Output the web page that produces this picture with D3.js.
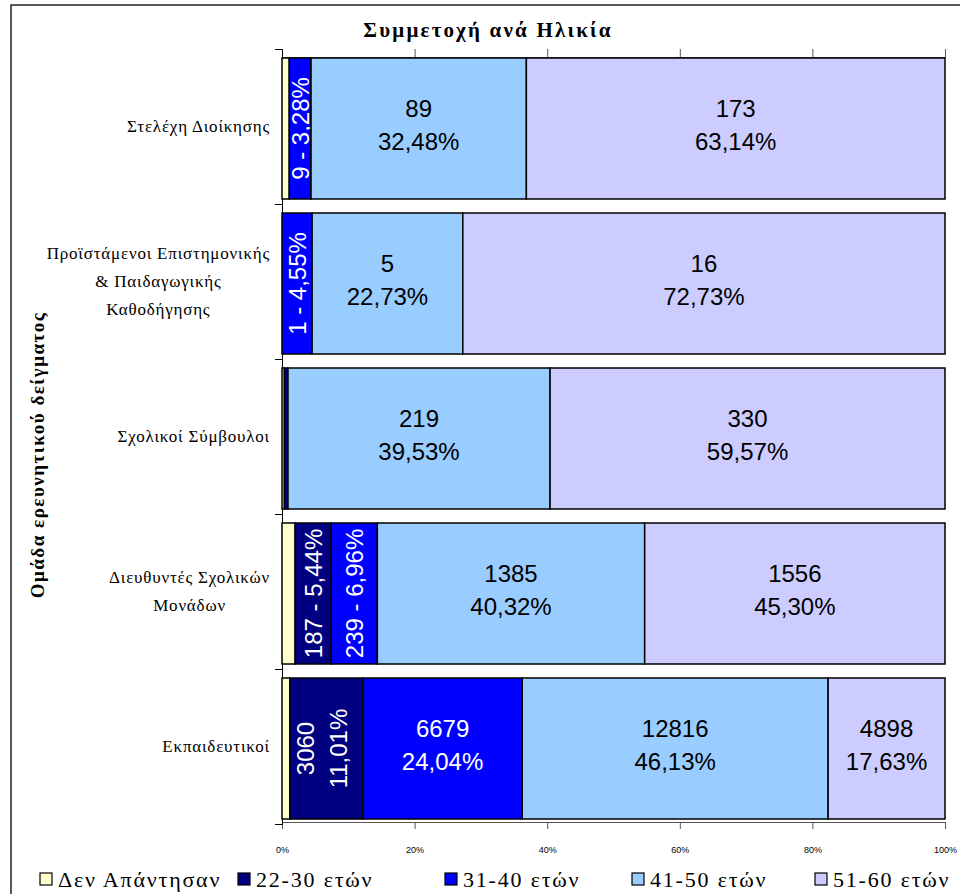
<!DOCTYPE html>
<html>
<head>
<meta charset="utf-8">
<script src="https://cdn.jsdelivr.net/npm/d3@7"></script>
<style>
body { margin: 0; background: #fff; }
svg { display: block; }
</style>
</head>
<body>
<svg width="960" height="894"></svg>
<script>
var categories = ["Στελέχη Διοίκησης",
                  "Προϊστάμενοι Επιστημονικής|& Παιδαγωγικής|Καθοδήγησης",
                  "Σχολικοί Σύμβουλοι",
                  "Διευθυντές Σχολικών|Μονάδων",
                  "Εκπαιδευτικοί"];

var seriesNames = ["Δεν Απάντησαν", "22-30 ετών", "31-40 ετών", "41-50 ετών", "51-60 ετών"];
var noAnswer = [3, 0, 2, 68, 329];
var age2230  = [0, 0, 3, 187, 3060];
var age3140  = [9, 1, 0, 239, 6679];
var age4150  = [89, 5, 219, 1385, 12816];
var age5160  = [173, 16, 330, 1556, 4898];
var xTicks = [0, 0.2, 0.4, 0.6, 0.8, 1];

var colors = ["#FFFFCC", "#000080", "#0000FF", "#99CCFF", "#CCCCFF"];
var textColors = ["#000", "#fff", "#fff", "#000", "#000"];

var serif = "'Liberation Serif', 'Times New Roman', serif";
var sans = "'Liberation Sans', Arial, sans-serif";

var svg = d3.select("svg");

// outer chart border
svg.append("rect")
.attr("x", 11).attr("y", 5)
.attr("width", 980).attr("height", 1000)
.attr("fill", "none").attr("stroke", "#000").attr("stroke-width", 1.3);

var x = d3.scaleLinear().domain([0, 1]).range([282, 945]);
var y = d3.scaleBand().domain(d3.range(categories.length)).range([49, 824]);
var yTick = d3.scaleLinear().domain([0, categories.length]).range([49, 824]);

var series = [noAnswer, age2230, age3140, age4150, age5160];

// stacked rows
var rows = categories.map(function (c, i) {
	var total = d3.sum(series, function (s) { return s[i]; });
	var acc = 0;
	return series.map(function (s, k) {
		var seg = {cat: i, k: k, value: s[i], x0: acc / total, x1: (acc + s[i]) / total, pct: s[i] / total};
		acc += s[i];
		return seg;
	});
});

// axes
svg.append("g")
.attr("transform", "translate(0,57)")
.call(d3.axisTop(x).tickValues(xTicks).tickSize(8).tickFormat(""))
.call(function (g) { g.selectAll("path,line").attr("stroke", "#555"); });

var bottom = svg.append("g")
.attr("transform", "translate(0,822)")
.call(d3.axisBottom(x).tickValues(xTicks).tickSize(7).tickPadding(18).tickFormat(d3.format(".0%")));
bottom.selectAll("path,line").attr("stroke", "#555");
bottom.selectAll("text")
.attr("font-family", "'Liberation Sans Narrow', 'Liberation Sans', Arial, sans-serif")
.attr("font-size", 9).attr("fill", "#000");

svg.append("g")
.attr("transform", "translate(282,0)")
.call(d3.axisLeft(yTick).ticks(categories.length).tickSize(7).tickFormat(""))
.call(function (g) { g.selectAll("path,line").attr("stroke", "#000"); });

// bars
rows.forEach(function (row, i) {
	var by = y(i) + 9;
	var bh = y.bandwidth() - 14;
	var cy = by + bh / 2;

	row.forEach(function (d) {
		if (d.value === 0) return;
		var x0 = x(d.x0), w = x(d.x1) - x(d.x0);
		svg.append("rect")
		.attr("x", x0).attr("y", by)
		.attr("width", w).attr("height", bh)
		.attr("fill", colors[d.k])
		.attr("stroke", "#000").attr("stroke-width", 1.5);

		if (d.k === 0 || w < 15) return;
		var pctTxt = (d.pct * 100).toFixed(2).replace(".", ",") + "%";
		var cx = x0 + w / 2;
		var t = svg.append("text")
		.attr("font-family", sans)
		.attr("font-size", 24)
		.attr("fill", textColors[d.k])
		.attr("text-anchor", "middle");
		if (w < 60) {
			t.attr("transform", "translate(" + (cx + 8.5) + "," + cy + ") rotate(-90)")
			.text(d.value + " - " + pctTxt);
		} else if (w < 100) {
			t.attr("transform", "translate(" + cx + "," + cy + ") rotate(-90)");
			t.append("tspan").attr("x", 0).attr("y", -12).text(d.value);
			t.append("tspan").attr("x", 0).attr("y", 21).text(pctTxt);
		} else {
			t.append("tspan").attr("x", cx).attr("y", cy - 12).text(d.value);
			t.append("tspan").attr("x", cx).attr("y", cy + 21).text(pctTxt);
		}
	});

	// category label: lines centred in a block right-aligned at 270
	var lines = categories[i].split("|");
	var lab = svg.append("text")
	.attr("font-family", serif)
	.attr("font-size", 17)
	.attr("letter-spacing", 0.8)
	.attr("text-anchor", "middle");
	var spans = lines.map(function (l, j) {
		return lab.append("tspan")
		.attr("y", cy + 3 + (j - (lines.length - 1) / 2) * 28)
		.text(l);
	});
	var maxW = d3.max(spans, function (s) { return s.node().getComputedTextLength(); });
	spans.forEach(function (s) { s.attr("x", 270 - maxW / 2); });
});

// title
svg.append("text")
.attr("font-family", serif)
.attr("x", 488).attr("y", 37)
.attr("text-anchor", "middle")
.attr("font-size", 21).attr("font-weight", "bold")
.attr("letter-spacing", 2.2)
.text("Συμμετοχή ανά Ηλικία");

// y axis title
svg.append("text")
.attr("font-family", serif)
.attr("transform", "translate(44,455) rotate(-90)")
.attr("text-anchor", "middle")
.attr("font-size", 19).attr("font-weight", "bold")
.attr("letter-spacing", 1.5)
.text("Ομάδα ερευνητικού δείγματος");

// legend
var legendX = d3.scaleOrdinal().domain(seriesNames).range([40, 238, 445, 632, 815]);
seriesNames.forEach(function (n, k) {
	var lx = legendX(n);
	svg.append("rect")
	.attr("x", lx).attr("y", 873)
	.attr("width", 12).attr("height", 12)
	.attr("fill", colors[k]).attr("stroke", "#000").attr("stroke-width", 1.2);
	svg.append("text")
	.attr("font-family", serif)
	.attr("x", lx + 18).attr("y", 887)
	.attr("font-size", 22)
	.attr("letter-spacing", 1.8)
	.text(n);
});
</script>
</body>
</html>
